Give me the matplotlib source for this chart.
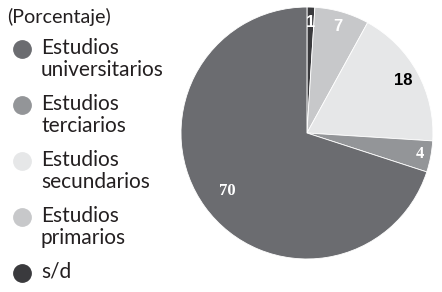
import numpy as np
import matplotlib
matplotlib.use("Agg")
import matplotlib.pyplot as plt

# slices clockwise from 12 o'clock
labels = ["s/d", "Estudios\nprimarios", "Estudios\nsecundarios",
          "Estudios\nterciarios", "Estudios\nuniversitarios"]
values = [1, 7, 18, 4, 70]
colors = ["#3a3a3d", "#c7c8ca", "#e6e7e8", "#939598", "#6b6c70"]
text_colors = ["white", "white", "black", "white", "white"]
label_r = [0.88, 0.88, 0.87, 0.91, 0.78]
label_fonts = ["Liberation Sans Narrow", "Liberation Sans Narrow",
               "Liberation Sans Narrow", "Liberation Serif", "Liberation Serif"]

# legend order (top to bottom)
legend_order = [4, 3, 2, 1, 0]

fig = plt.figure(figsize=(4.42, 2.92), dpi=100)
ax = fig.add_axes([0.4095, 0.113, 0.570, 0.863])
wedges, _ = ax.pie(values, colors=colors, startangle=90, counterclock=False,
                   radius=1.0,
                   wedgeprops=dict(edgecolor="white", linewidth=0.6))
ax.set_xlim(-1, 1)
ax.set_ylim(-1, 1)
ax.set_aspect("equal")
ax.axis("off")

for w, v, tc, r, fnt in zip(wedges, values, text_colors, label_r, label_fonts):
    ang = np.deg2rad((w.theta1 + w.theta2) / 2)
    ax.text(r * np.cos(ang), r * np.sin(ang), str(v), ha="center", va="center",
            fontsize=12, fontweight="bold", color=tc,
            family=[fnt, "Liberation Sans", "DejaVu Sans"])

# legend drawn by hand
fig.text(7 / 442, 1 - 17 / 292, "(Porcentaje)", ha="left", va="center",
         fontsize=14.2, family="Lato", color="#231f20")
y0 = 49
for i, idx in enumerate(legend_order):
    y = y0 + i * 56
    fig.add_artist(plt.Line2D([22 / 442], [1 - y / 292], marker="o",
                              markersize=12.5, color=colors[idx],
                              transform=fig.transFigure))
    fig.text(41 / 442, 1 - (y - 11) / 292, labels[idx], ha="left", va="top",
             fontsize=15, family="Lato", color="#231f20", linespacing=1.12)

fig.savefig("out.png", dpi=100)
